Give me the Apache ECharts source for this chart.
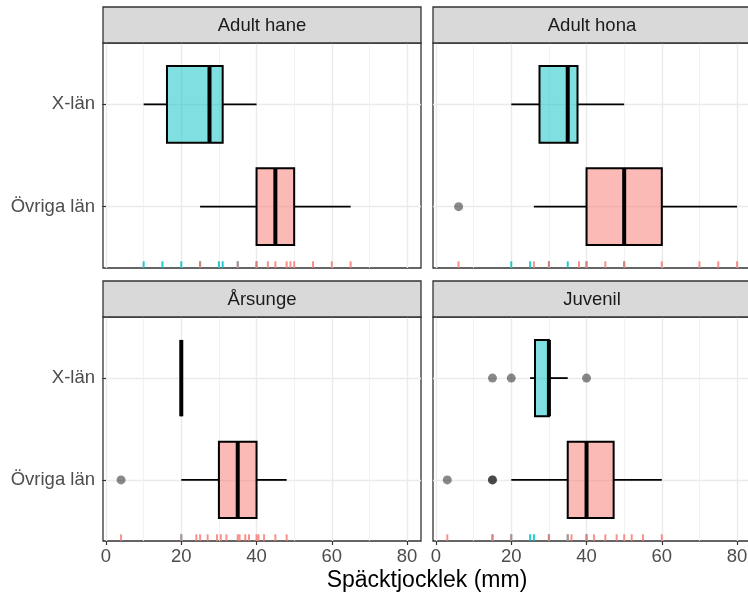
<!DOCTYPE html>
<html><head><meta charset="utf-8">
<script src="https://cdn.jsdelivr.net/npm/echarts@6/dist/echarts.min.js"></script>
<style>html,body{margin:0;padding:0;background:#fff}#c{width:748px;height:600px}</style>
</head><body><div id="c"></div><script>
// ---------- data ----------
const panels = ['Adult hane', 'Adult hona', 'Årsunge', 'Juvenil'];
const groups = ['Övriga län', 'X-län'];        // y positions 1, 2
const xTicks = [0, 20, 40, 60, 80];
const xMinorTicks = [10, 30, 50, 70];
const xTitle = 'Späcktjocklek (mm)';

// box stats [min, q1, median, q3, max], order: [Övriga län, X-län]
const adultHaneBox = [[25, 40, 45, 50, 65], [10, 16.2, 27.5, 31, 40]];
const adultHonaBox = [[26, 40, 50, 60, 80], [20, 27.5, 35, 37.6, 50]];
const arsungeBox   = [[20, 30, 35, 40, 48], [20, 20, 20, 20, 20]];
const juvenilBox   = [[20, 35, 40, 47.2, 60], [25, 26.3, 30, 30, 35]];

// outliers, order: [Övriga län, X-län]
const adultHaneOut = [[], []];
const adultHonaOut = [[6], []];
const arsungeOut   = [[4], []];
const juvenilOut   = [[3, 15, 15], [15, 20, 40]];

// rug values
const adultHaneRugO = [25, 35, 40, 43, 45, 48, 49, 50, 55, 60, 65];
const adultHaneRugX = [10, 15, 20, 25, 30, 31, 35, 40];
const adultHonaRugO = [6, 26, 30, 38, 40, 45, 50, 60, 70, 75, 80];
const adultHonaRugX = [20, 25, 30, 35, 40, 50];
const arsungeRugO   = [4, 20, 24, 25, 27, 29.5, 30.5, 32, 35, 35.5, 37, 38, 40, 40.5, 42, 45, 48];
const arsungeRugX   = [20];
const juvenilRugO   = [3, 15, 20, 30, 35, 36, 40, 42, 45, 48, 50, 52, 55, 60];
const juvenilRugX   = [15, 20, 25, 26, 30, 35, 40];

// ---------- styling ----------
const boxes = [adultHaneBox, adultHonaBox, arsungeBox, juvenilBox];
const outs = [adultHaneOut, adultHonaOut, arsungeOut, juvenilOut];
const rugs = [[adultHaneRugO, adultHaneRugX], [adultHonaRugO, adultHonaRugX], [arsungeRugO, arsungeRugX], [juvenilRugO, juvenilRugX]];

const FONT = "'Liberation Sans', Arial, sans-serif";
const FS = 18.5;
const FILLS = ['rgba(248,118,109,0.5)', 'rgba(0,191,196,0.5)'];
const RUG = ['rgba(248,118,109,0.8)', 'rgba(0,191,196,0.85)'];
const XMIN = -0.8, XMAX = 83.7, YMIN = 0.4, YMAX = 2.6;

const gridPos = [
  {left: 103, top: 43, width: 318, height: 225},
  {left: 433, top: 43, width: 318, height: 225},
  {left: 103, top: 317, width: 318, height: 224},
  {left: 433, top: 317, width: 318, height: 224}
];

const grid = [], xAxis = [], yAxis = [], series = [], graphic = [];

function renderBox(params, api) {
  const y = api.value(0), g = api.value(6);
  const mn = api.value(1), q1 = api.value(2), md = api.value(3), q3 = api.value(4), mx = api.value(5);
  const h = 0.375;
  const a = api.coord([q1, y + h]), b = api.coord([q3, y - h]);
  const c = api.coord([md, y]);
  const w1 = api.coord([mn, y]), w2 = api.coord([mx, y]);
  const ln = {stroke: '#000', lineWidth: 1.8};
  return {type: 'group', children: [
    {type: 'line', shape: {x1: w1[0], y1: c[1], x2: a[0], y2: c[1]}, style: ln},
    {type: 'line', shape: {x1: b[0], y1: c[1], x2: w2[0], y2: c[1]}, style: ln},
    {type: 'rect', shape: {x: a[0], y: a[1], width: b[0] - a[0], height: b[1] - a[1]},
      style: {fill: FILLS[g], stroke: '#000', lineWidth: 2}},
    {type: 'line', shape: {x1: c[0], y1: a[1], x2: c[0], y2: b[1]}, style: {stroke: '#000', lineWidth: 4}}
  ]};
}

function renderRug(params, api) {
  const p = api.coord([api.value(0), YMIN]);
  const len = params.coordSys.height * 0.03;
  return {type: 'line', shape: {x1: p[0], y1: p[1], x2: p[0], y2: p[1] - len},
    style: {stroke: RUG[api.value(1)], lineWidth: 2}};
}

panels.forEach((name, i) => {
  const gp = gridPos[i];
  const bottom = i >= 2, left = i % 2 === 0;
  grid.push(Object.assign({show: true, borderColor: '#333', borderWidth: 1.3, backgroundColor: '#fff',
    containLabel: false, outerBoundsMode: 'none'}, gp));
  xAxis.push({gridIndex: i, type: 'value', min: XMIN, max: XMAX, position: 'bottom',
    axisLine: {show: false},
    axisTick: {show: bottom, customValues: xTicks, length: 4, lineStyle: {color: '#333', width: 1.2}},
    axisLabel: {show: bottom, customValues: xTicks, fontFamily: FONT, fontSize: FS, color: '#4D4D4D', margin: 6},
    splitLine: {show: true, lineStyle: {color: '#EBEBEB', width: 1.4}}});
  xAxis.push({gridIndex: i, type: 'value', min: XMIN, max: XMAX, position: 'top',
    axisLine: {show: false},
    axisTick: {show: false, customValues: xMinorTicks},
    axisLabel: {show: false},
    splitLine: {show: true, lineStyle: {color: '#EFEFEF', width: 0.8}}});
  yAxis.push({gridIndex: i, type: 'value', min: YMIN, max: YMAX,
    axisLine: {show: false},
    axisTick: {show: left, customValues: [1, 2], length: 4, lineStyle: {color: '#333', width: 1.2}},
    axisLabel: {show: left, customValues: [1, 2], formatter: v => groups[Math.round(v) - 1],
      fontFamily: FONT, fontSize: FS, color: '#4D4D4D', margin: 8},
    splitLine: {show: true, lineStyle: {color: '#EBEBEB', width: 1.4}}});

  // rug
  const rugData = [];
  rugs[i][1].forEach(v => rugData.push([v, 1]));
  rugs[i][0].forEach(v => rugData.push([v, 0]));
  series.push({type: 'custom', xAxisIndex: 2 * i, yAxisIndex: i, data: rugData,
    renderItem: renderRug, encode: {x: 0}, silent: true, z: 2});
  // outliers
  const od = [];
  outs[i].forEach((arr, g) => arr.forEach(v => od.push([v, g + 1])));
  series.push({type: 'scatter', xAxisIndex: 2 * i, yAxisIndex: i, data: od, symbolSize: 9,
    itemStyle: {color: 'rgba(0,0,0,0.58)'}, silent: true, z: 3});
  // boxes
  series.push({type: 'custom', xAxisIndex: 2 * i, yAxisIndex: i,
    data: boxes[i].map((b, g) => [g + 1].concat(b, [g])),
    encode: {x: [1, 2, 3, 4, 5], y: 0}, renderItem: renderBox, silent: true, z: 4});

  // strip
  graphic.push({type: 'rect', shape: {x: gp.left, y: gp.top - 36, width: gp.width, height: 36},
    style: {fill: '#D9D9D9', stroke: '#333', lineWidth: 1.3}, z: 10});
  graphic.push({type: 'text', x: gp.left + 159, y: gp.top - 17,
    style: {text: name, fontFamily: FONT, fontSize: FS, fill: '#1A1A1A', align: 'center', verticalAlign: 'middle'}, z: 11});
});

graphic.push({type: 'text', x: 427, y: 581,
  style: {text: xTitle, fontFamily: FONT, fontSize: 23, fill: '#000', align: 'center', verticalAlign: 'middle'}, z: 11});

const chart = echarts.init(document.getElementById('c'), null, {renderer: 'canvas'});
chart.setOption({backgroundColor: '#fff', animation: false, grid, xAxis, yAxis, series, graphic});
</script></body></html>
